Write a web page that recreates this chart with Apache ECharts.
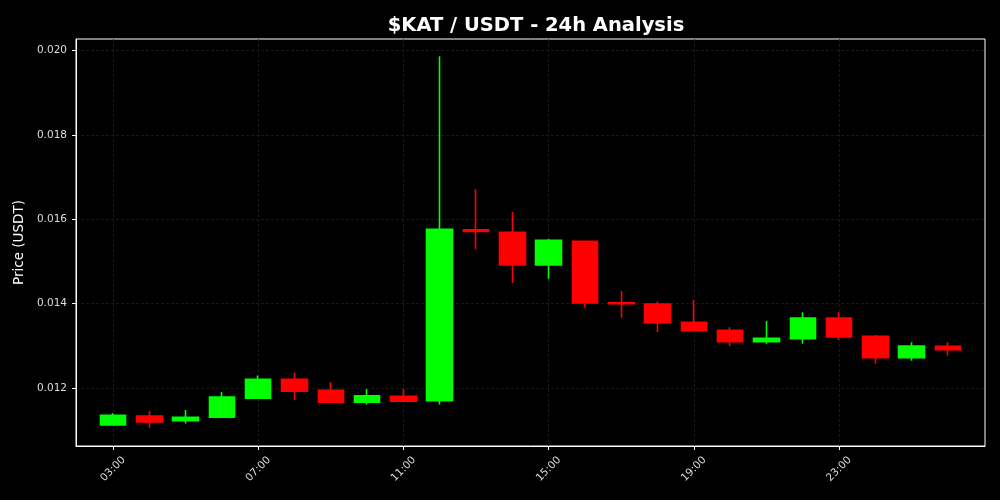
<!DOCTYPE html>
<html>
<head>
<meta charset="utf-8">
<script src="https://cdn.jsdelivr.net/npm/echarts@6/dist/echarts.min.js"></script>
<style>html,body{margin:0;padding:0;background:#000;}#c{width:1000px;height:500px;}</style>
</head>
<body>
<div id="c"></div>
<script>
// Hours (offset from 03:00) and labels
var hours = [0,1,2,3,4,5,6,7,8,9,10,11,12,13,14,15,16,17,18,19,20,21,22,23];
var startHour = 3;
var opens  = [0.01113,0.01134,0.01123,0.01131,0.01176,0.01221,0.01195,0.01167,0.01181,0.01170,0.01575,0.01569,0.01492,0.01548,0.01402,0.01399,0.01356,0.01337,0.01310,0.01317,0.01366,0.01323,0.01272,0.01299];
var closes = [0.01136,0.01120,0.01131,0.01179,0.01221,0.01193,0.01167,0.01182,0.01169,0.01576,0.01571,0.01492,0.01550,0.01402,0.01400,0.01355,0.01336,0.01310,0.01318,0.01366,0.01321,0.01272,0.01300,0.01291];
var highs  = [0.01141,0.01146,0.01148,0.01191,0.01230,0.01236,0.01214,0.01198,0.01198,0.01986,0.01671,0.01617,0.01554,0.01550,0.01430,0.01405,0.01408,0.01344,0.01359,0.01380,0.01380,0.01326,0.01309,0.01309];
var lows   = [0.01112,0.01106,0.01116,0.01131,0.01175,0.01172,0.01164,0.01161,0.01167,0.01161,0.01529,0.01449,0.01459,0.01391,0.01367,0.01333,0.01336,0.01300,0.01305,0.01305,0.01314,0.01258,0.01265,0.01277];
var xTickValues = [0,4,8,12,16,20];
var yTickValues = [0.012,0.014,0.016,0.018,0.020];

var seriesData = hours.map(function(h,i){ return [h, opens[i], closes[i], lows[i], highs[i]]; });

var chart = echarts.init(document.getElementById('c'));
chart.setOption({
  backgroundColor: '#000',
  animation: false,
  title: {
    text: '$KAT / USDT - 24h Analysis',
    left: 531, top: 11, textAlign: 'center',
    textStyle: {color:'#fff', fontSize:19.5, fontWeight:'bold', fontFamily:'DejaVu Sans'}
  },
  grid: {left:76, right:15, top:39, bottom:54, show:true, borderColor:'#fff', borderWidth:1, backgroundColor:'#000'},
  xAxis: {
    type:'value', min:-1.02, max:24.02,
    axisLine:{show:true, onZero:false, lineStyle:{color:'#fff', width:1}},
    axisTick:{show:true, inside:false, length:4, customValues:xTickValues, lineStyle:{color:'#fff'}},
    axisLabel:{
      customValues:xTickValues, rotate:45, align:'center', verticalAlign:'middle',
      color:'#ddd', fontSize:10.5, fontFamily:'DejaVu Sans', margin:23,
      formatter:function(v){ var h=(startHour+Math.round(v))%24; return (h<10?'0':'')+h+':00'; }
    },
    splitLine:{show:true, lineStyle:{color:'#1f1f1f', type:[3,2], width:0.8}}
  },
  yAxis: {
    type:'value', min:0.01063, max:0.02027, scale:true,
    name:'Price (USDT)', nameLocation:'middle', nameGap:48,
    nameTextStyle:{color:'#fff', fontSize:13.5, fontFamily:'DejaVu Sans'},
    axisLine:{show:true, onZero:false, lineStyle:{color:'#fff', width:1}},
    axisTick:{show:true, inside:false, length:4, customValues:yTickValues, lineStyle:{color:'#fff'}},
    axisLabel:{customValues:yTickValues, color:'#ddd', fontSize:10.5, fontFamily:'DejaVu Sans', margin:9,
      formatter:function(v){ return v.toFixed(3); }},
    splitLine:{show:true, lineStyle:{color:'#1f1f1f', type:[3,2], width:0.8}}
  },
  series: [{
    type:'candlestick',
    data: seriesData,
    barWidth: 26,
    itemStyle:{color:'#00ff00', color0:'#ff0000', borderColor:'#00ff00', borderColor0:'#ff0000', borderWidth:1.6}
  }]
});
</script>
</body>
</html>
